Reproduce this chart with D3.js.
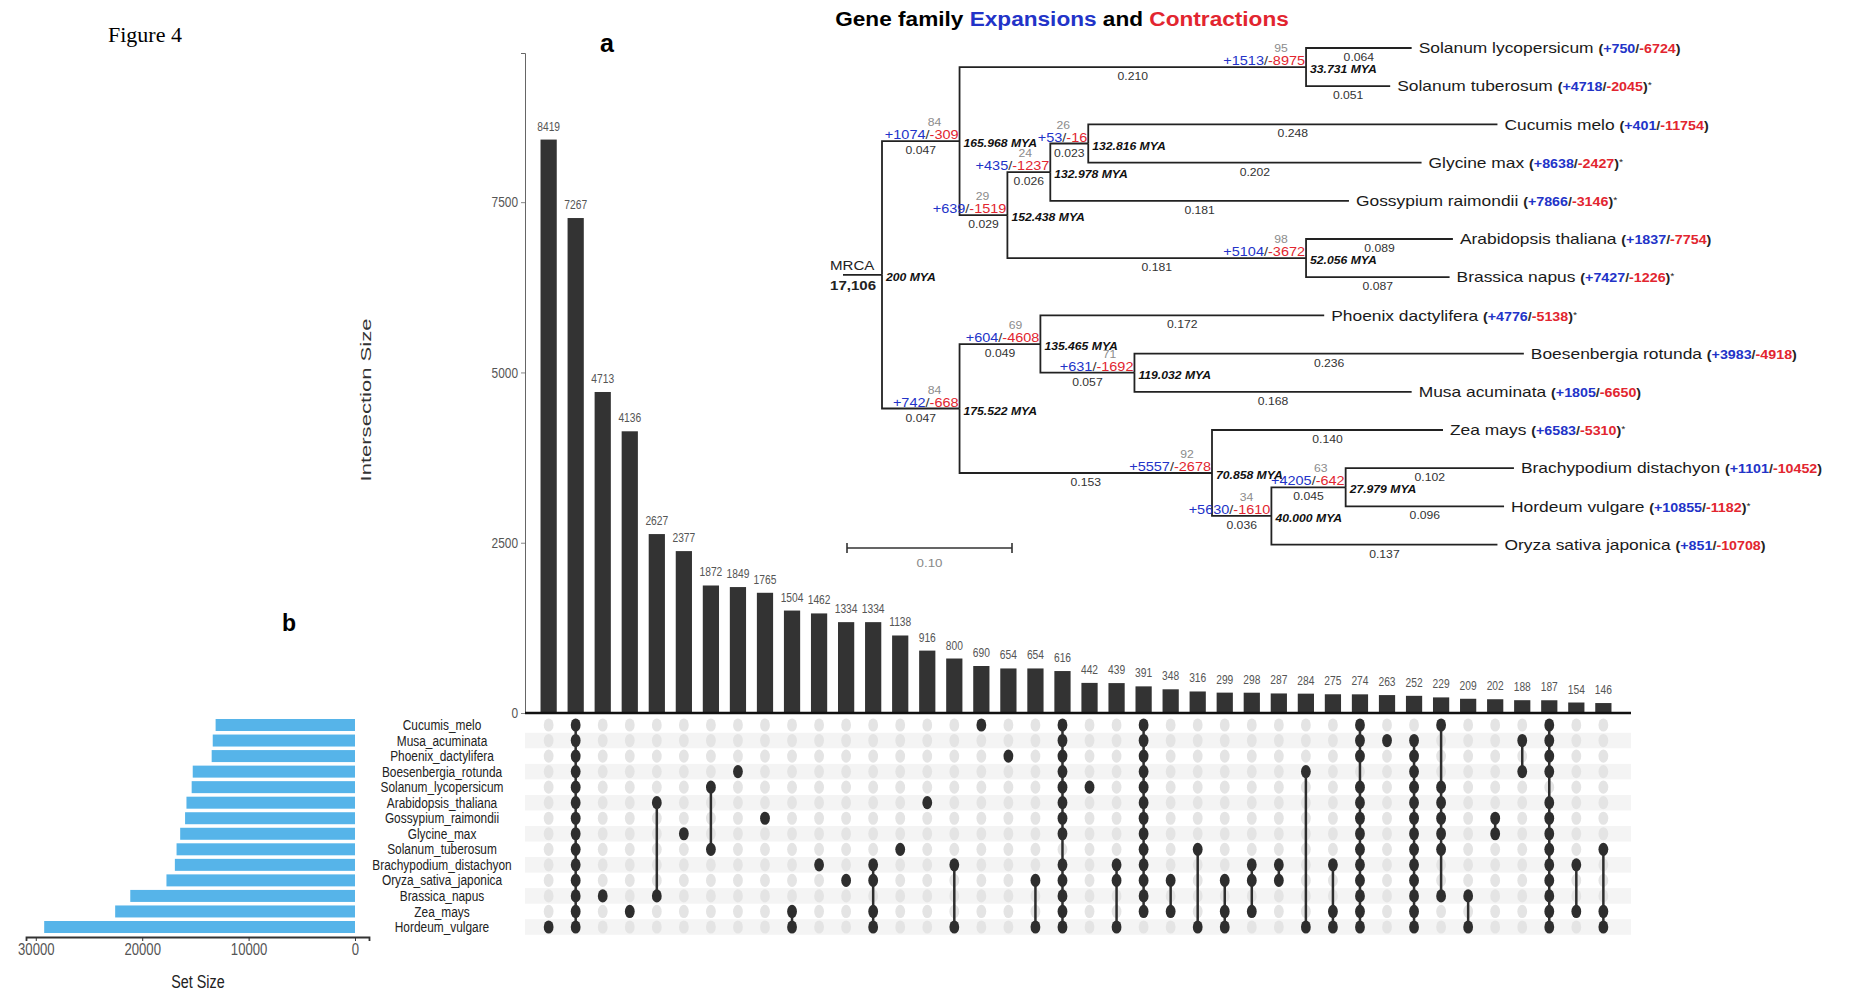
<!DOCTYPE html>
<html>
<head>
<meta charset="utf-8">
<script src="https://cdn.jsdelivr.net/npm/d3@7"></script>
<style>
  body { margin: 0; background: #fff; }
  svg { display: block; }
  text { font-family: "Liberation Sans", Arial, sans-serif; }
</style>
</head>
<body>
<svg id="chart" width="1849" height="997"></svg>
<script>
// UpSet data (rows top to bottom)
const setNames = ["Cucumis_melo", "Musa_acuminata", "Phoenix_dactylifera", "Boesenbergia_rotunda",
  "Solanum_lycopersicum", "Arabidopsis_thaliana", "Gossypium_raimondii", "Glycine_max",
  "Solanum_tuberosum", "Brachypodium_distachyon", "Oryza_sativa_japonica", "Brassica_napus",
  "Zea_mays", "Hordeum_vulgare"];
const setSizes = [13100, 13370, 13470, 15250, 15350, 15840, 15970, 16430, 16770, 16930, 17720, 21120, 22540, 29210];
const setSizeTicks = [30000, 20000, 10000, 0];

const intersectionSizes = [8419, 7267, 4713, 4136, 2627, 2377, 1872, 1849, 1765, 1504, 1462, 1334, 1334, 1138,
  916, 800, 690, 654, 654, 616, 442, 439, 391, 348, 316, 299, 298, 287, 284, 275, 274, 263, 252, 229,
  209, 202, 188, 187, 154, 146];
// row indices (into setNames) that belong to each intersection
const intersectionMembers = [
  [13], [0,1,2,3,4,5,6,7,8,9,10,11,12,13], [11], [12], [5,11], [7], [4,8], [3], [6], [12,13],
  [9], [10], [9,10,12,13], [8], [5], [9,13], [0], [2], [10,13], [0,1,2,3,4,5,6,7,9,10,11,12,13],
  [4], [9,10,13], [0,1,2,3,4,5,6,7,8,9,10,11,12], [10,12], [8,13], [10,12,13], [9,10,12], [9,10],
  [3,13], [9,12,13], [0,1,2,4,5,6,7,8,9,10,11,12,13], [1], [1,2,3,4,5,6,7,8,9,10,11,12,13],
  [0,4,5,6,7,8,11], [11,13], [6,7], [1,3], [0,1,2,3,5,6,7,8,9,10,11,12,13], [9,12], [8,12,13]
];
const intersectionTicks = [0, 2500, 5000, 7500];

// Phylogeny: [id, parent, branch length]
const treeEdges = [
  ["MRCA", null, 0],
  ["n1", "MRCA", 0.047], ["n2", "n1", 0.210], ["Slyc", "n2", 0.064], ["Stub", "n2", 0.051],
  ["n3", "n1", 0.029], ["n4", "n3", 0.026], ["n5", "n4", 0.023], ["Cmel", "n5", 0.248],
  ["Gmax", "n5", 0.202], ["Grai", "n4", 0.181], ["n6", "n3", 0.181], ["Atha", "n6", 0.089],
  ["Bnap", "n6", 0.087],
  ["m1", "MRCA", 0.047], ["m2", "m1", 0.049], ["Pdac", "m2", 0.172], ["m3", "m2", 0.057],
  ["Brot", "m3", 0.236], ["Macu", "m3", 0.168], ["m4", "m1", 0.153], ["Zmay", "m4", 0.140],
  ["m5", "m4", 0.036], ["m6", "m5", 0.045], ["Bdis", "m6", 0.102], ["Hvul", "m6", 0.096],
  ["Osat", "m5", 0.137]
];
const leafNames = {
  Slyc: "Solanum lycopersicum", Stub: "Solanum tuberosum", Cmel: "Cucumis melo", Gmax: "Glycine max",
  Grai: "Gossypium raimondii", Atha: "Arabidopsis thaliana", Bnap: "Brassica napus",
  Pdac: "Phoenix dactylifera", Brot: "Boesenbergia rotunda", Macu: "Musa acuminata", Zmay: "Zea mays",
  Bdis: "Brachypodium distachyon", Hvul: "Hordeum vulgare", Osat: "Oryza sativa japonica"
};
const leafStar = ["Stub", "Gmax", "Grai", "Bnap", "Pdac", "Zmay", "Hvul"];
// expansions / contractions
const gainLoss = {
  n1: [1074, 309], n2: [1513, 8975], n3: [639, 1519], n4: [435, 1237], n5: [53, 16], n6: [5104, 3672],
  m1: [742, 668], m2: [604, 4608], m3: [631, 1692], m4: [5557, 2678], m5: [5630, 1610], m6: [4205, 642],
  Slyc: [750, 6724], Stub: [4718, 2045], Cmel: [401, 11754], Gmax: [8638, 2427], Grai: [7866, 3146],
  Atha: [1837, 7754], Bnap: [7427, 1226], Pdac: [4776, 5138], Brot: [3983, 4918], Macu: [1805, 6650],
  Zmay: [6583, 5310], Bdis: [1101, 10452], Hvul: [10855, 1182], Osat: [851, 10708]
};
const support = { n1: 84, n2: 95, n3: 29, n4: 24, n5: 26, n6: 98, m1: 84, m2: 69, m3: 71, m4: 92, m5: 34, m6: 63 };
const nodeAges = { MRCA: "200", n1: "165.968", n2: "33.731", n3: "152.438", n4: "132.978", n5: "132.816",
  n6: "52.056", m1: "175.522", m2: "135.465", m3: "119.032", m4: "70.858", m5: "40.000", m6: "27.979" };

const BLUE = "#2233c8";
const RED = "#e2252f";
const NARROW = 0.82;   // upset panel text is squeezed
const WIDE = 1.16;     // tree panel text is stretched
const svg = d3.select("#chart");

// position + horizontal scaling for a text
function at(px, py, s) {
  return `translate(${px},${py}) scale(${s},1)`;
}

// --- labels of the figure ---
svg.append("text").attr("x", 108).attr("y", 42)
  .style("font-family", "'Liberation Serif', 'Times New Roman', serif").style("font-size", "22px")
  .text("Figure 4");
svg.append("text").attr("x", 607).attr("y", 52).attr("text-anchor", "middle")
  .style("font-size", "25px").style("font-weight", "bold").text("a");
svg.append("text").attr("x", 289).attr("y", 631).attr("text-anchor", "middle")
  .style("font-size", "23px").style("font-weight", "bold").text("b");

// ---------------- Intersection bars ----------------
const x = d3.scaleBand().domain(d3.range(intersectionSizes.length))
  .range([527, 1625]).paddingInner(0.4).paddingOuter(0.5);
const y = d3.scaleLinear().domain([0, 9690]).range([713, 53]);

const yAxis = svg.append("g").attr("transform", "translate(525,0)")
  .call(d3.axisLeft(y).tickValues(intersectionTicks).tickSize(4).tickFormat(d3.format("d")));
yAxis.select(".domain").attr("stroke", "#666");
yAxis.selectAll(".tick line").attr("stroke", "#888");
yAxis.selectAll(".tick text")
  .attr("transform", `scale(${NARROW},1)`)
  .attr("x", -7 / NARROW)
  .attr("fill", "#555").style("font-size", "14.5px");

svg.append("text")
  .attr("transform", "translate(371,400) rotate(-90)")
  .attr("text-anchor", "middle").attr("fill", "#333").style("font-size", "14px")
  .attr("textLength", 163).attr("lengthAdjust", "spacingAndGlyphs")
  .text("Intersection Size");

svg.selectAll(".bar").data(intersectionSizes).enter().append("rect")
  .attr("class", "bar")
  .attr("x", (d, i) => x(i))
  .attr("y", d => y(d))
  .attr("width", x.bandwidth())
  .attr("height", d => y(0) - y(d))
  .attr("fill", "#333");

svg.selectAll(".barlabel").data(intersectionSizes).enter().append("text")
  .attr("transform", (d, i) => at(x(i) + x.bandwidth() / 2, y(d) - 9, NARROW))
  .attr("text-anchor", "middle").attr("fill", "#555").style("font-size", "12.5px")
  .text(d => d);

svg.append("line").attr("x1", 525).attr("x2", 1631).attr("y1", y(0)).attr("y2", y(0))
  .attr("stroke", "#111").attr("stroke-width", 2.5);

// ---------------- Matrix ----------------
const rowY = d3.scalePoint().domain(setNames).range([725, 927]);
const rowStep = rowY.step();

svg.selectAll(".stripe").data(setNames.filter((d, i) => i % 2 === 1)).enter().append("rect")
  .attr("x", 525).attr("width", 1106)
  .attr("y", d => rowY(d) - rowStep / 2).attr("height", rowStep)
  .attr("fill", "#f4f4f4");

intersectionMembers.forEach((members, i) => {
  const cx = x(i) + x.bandwidth() / 2;
  const g = svg.append("g");
  g.selectAll("ellipse").data(setNames).enter().append("ellipse")
    .attr("cx", cx).attr("cy", d => rowY(d)).attr("rx", 4.9).attr("ry", 6.6)
    .attr("fill", (d, r) => members.includes(r) ? "#2e2e2e" : "#e4e4e4");
  if (members.length > 1) {
    g.append("line").attr("x1", cx).attr("x2", cx)
      .attr("y1", rowY(setNames[d3.min(members)])).attr("y2", rowY(setNames[d3.max(members)]))
      .attr("stroke", "#2e2e2e").attr("stroke-width", 2.5);
  }
});

// ---------------- Set size bars ----------------
const sx = d3.scaleLinear().domain([30920, -1316]).range([26, 369]);

svg.selectAll(".setbar").data(setSizes).enter().append("rect")
  .attr("x", d => sx(d)).attr("width", d => sx(0) - sx(d))
  .attr("y", (d, i) => rowY(setNames[i]) - 6).attr("height", 12)
  .attr("fill", "#56B4E9");

const sAxis = svg.append("g").attr("transform", "translate(0,937)")
  .call(d3.axisBottom(sx).tickValues(setSizeTicks).tickSize(4).tickFormat(d3.format("d")));
sAxis.select(".domain").attr("stroke", "#333").attr("stroke-width", 1.8);
sAxis.selectAll(".tick line").attr("stroke", "#333");
sAxis.selectAll(".tick text").attr("transform", `scale(${NARROW},1)`)
  .attr("fill", "#555").style("font-size", "16px");

svg.append("text").attr("transform", at(198, 988, NARROW))
  .attr("text-anchor", "middle").attr("fill", "#222").style("font-size", "17.5px").text("Set Size");

svg.selectAll(".setname").data(setNames).enter().append("text")
  .attr("transform", d => at(442, rowY(d), NARROW)).attr("dy", "0.35em")
  .attr("text-anchor", "middle").attr("fill", "#222").style("font-size", "14.5px")
  .text(d => d);

// ---------------- Phylogenetic tree ----------------
const treeX = d3.scaleLinear().domain([0, 0.1]).range([882, 1047]);
const root = d3.stratify().id(d => d[0]).parentId(d => d[1])(treeEdges);
root.eachBefore(d => { d.dist = d.parent ? d.parent.dist + d.data[2] : 0; });
d3.cluster().size([534.8, 1]).separation(() => 1)(root);
root.each(d => { d.px = treeX(d.dist); d.py = 28.9 + d.x; });

const tree = svg.append("g");

svg.append("text").attr("transform", at(1062, 26, WIDE))
  .attr("text-anchor", "middle").style("font-size", "19.5px").style("font-weight", "bold")
  .call(t => {
    t.append("tspan").text("Gene family ");
    t.append("tspan").attr("fill", BLUE).text("Expansions");
    t.append("tspan").text(" and ");
    t.append("tspan").attr("fill", RED).text("Contractions");
  });

tree.selectAll(".branch").data(root.descendants().slice(1)).enter().append("path")
  .attr("d", d => `M${d.parent.px},${d.parent.py}V${d.py}H${d.px}`)
  .attr("fill", "none").attr("stroke", "#222").attr("stroke-width", 1.8);

// root stub + MRCA
tree.append("line").attr("x1", root.px - 39).attr("x2", root.px).attr("y1", root.py).attr("y2", root.py)
  .attr("stroke", "#222").attr("stroke-width", 1.8);
tree.append("text").attr("transform", at(830, root.py - 5, WIDE))
  .style("font-size", "13px").attr("fill", "#222").text("MRCA");
tree.append("text").attr("transform", at(830, root.py + 15, WIDE)).style("font-size", "13px")
  .style("font-weight", "bold").attr("fill", "#222").text("17,106");

function gainLossText(sel, id) {
  sel.append("tspan").attr("fill", BLUE).text("+" + gainLoss[id][0]);
  sel.append("tspan").attr("fill", "#333").text("/");
  sel.append("tspan").attr("fill", RED).text("-" + gainLoss[id][1]);
}

const inner = root.descendants().filter(d => d.children && d.parent);

// expansions / contractions on internal branches
inner.forEach(d => {
  tree.append("text").attr("transform", at(d.px - 1, d.py - 2, WIDE))
    .attr("text-anchor", "end").style("font-size", "12.5px")
    .call(t => gainLossText(t, d.id));
  tree.append("text").attr("transform", at(d.px - 25, d.py - 15, WIDE))
    .attr("text-anchor", "middle").attr("fill", "#8c8c8c").style("font-size", "10.5px")
    .text(support[d.id]);
});

// branch lengths below each branch
tree.selectAll(".blen").data(root.descendants().slice(1)).enter().append("text")
  .attr("transform", d => at((d.parent.px + d.px) / 2, d.py + 13, WIDE))
  .attr("text-anchor", "middle").attr("fill", "#333").style("font-size", "10.5px")
  .text(d => d.data[2].toFixed(3));

// node ages
tree.selectAll(".age").data(root.descendants().filter(d => d.children)).enter().append("text")
  .attr("transform", d => at(d.px + 4, d.py + 6, WIDE))
  .style("font-size", "10.5px").style("font-weight", "bold").style("font-style", "italic")
  .attr("fill", "#111")
  .text(d => nodeAges[d.id] + " MYA");

// leaf labels
root.leaves().forEach(d => {
  const t = tree.append("text").attr("transform", at(d.px + 7, d.py, WIDE)).attr("dy", "0.35em")
    .attr("fill", "#1a1a1a").style("font-size", "15px");
  t.append("tspan").text(leafNames[d.id] + " ");
  const c = t.append("tspan").style("font-size", "12.3px").style("font-weight", "bold");
  c.append("tspan").attr("fill", "#222").text("(");
  gainLossText(c, d.id);
  c.append("tspan").attr("fill", "#222").text(")");
  if (leafStar.includes(d.id)) {
    t.append("tspan").attr("dy", "-0.35em").style("font-size", "9px").text("*");
  }
});

// scale bar
const sb0 = 847;
const sb1 = sb0 + treeX(0.1) - treeX(0);
tree.append("path")
  .attr("d", `M${sb0},543V553M${sb0},548H${sb1}M${sb1},543V553`)
  .attr("fill", "none").attr("stroke", "#333").attr("stroke-width", 1.6);
tree.append("text").attr("transform", at((sb0 + sb1) / 2, 567, WIDE)).attr("text-anchor", "middle")
  .attr("fill", "#888").style("font-size", "11.5px").text("0.10");
</script>
</body>
</html>
